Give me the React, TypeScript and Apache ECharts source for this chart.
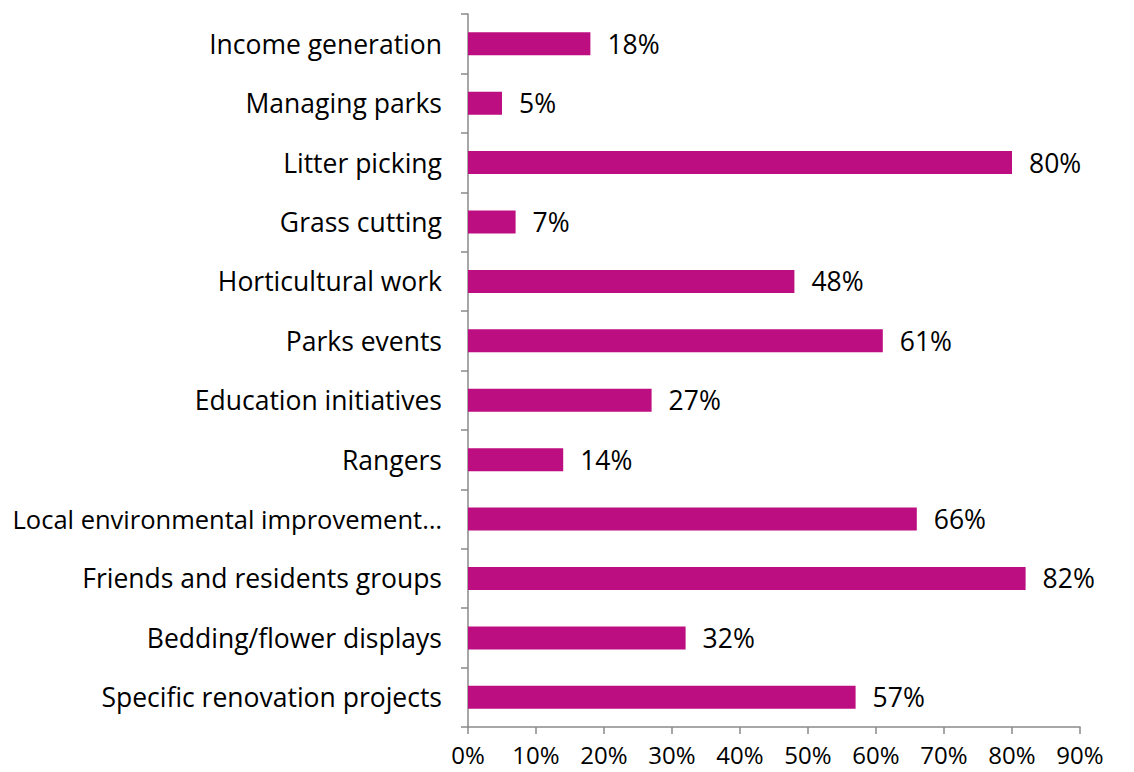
import React, { useEffect, useRef } from "react";
import * as echarts from "echarts";

const categories = [
  "Income generation",
  "Managing parks",
  "Litter picking",
  "Grass cutting",
  "Horticultural work",
  "Parks events",
  "Education initiatives",
  "Rangers",
  "Local environmental improvement…",
  "Friends and residents groups",
  "Bedding/flower displays",
  "Specific renovation projects",
];
const values = [18, 5, 80, 7, 48, 61, 27, 14, 66, 82, 32, 57];
const xTicks = [0, 10, 20, 30, 40, 50, 60, 70, 80, 90];

const FONT = "Open Sans";

export default function App() {
  const ref = useRef<HTMLDivElement>(null);
  useEffect(() => {
    const chart = echarts.init(ref.current!, null, { renderer: "svg" });
    chart.setOption({
      animation: false,
      grid: {
        left: 468,
        right: 54,
        top: 14,
        bottom: 45,
        containLabel: false,
        outerBoundsMode: "none",
      },
      xAxis: {
        type: "value",
        min: xTicks[0],
        max: xTicks[xTicks.length - 1],
        interval: 10,
        splitLine: { show: false },
        axisLine: { show: true, lineStyle: { color: "#8a8a8a", width: 1.5 } },
        axisTick: { show: true, length: 7, lineStyle: { color: "#8a8a8a", width: 1.5 } },
        axisLabel: {
          formatter: "{value}%",
          color: "#000",
          fontSize: 24,
          fontFamily: FONT,
          margin: 15,
        },
      },
      yAxis: {
        type: "category",
        inverse: true,
        data: categories,
        axisLine: { show: true, lineStyle: { color: "#8a8a8a", width: 1.5 } },
        axisTick: { show: true, length: 7, lineStyle: { color: "#8a8a8a", width: 1.5 } },
        axisLabel: {
          color: "#000",
          fontSize: 26.5,
          fontFamily: FONT,
          margin: 26,
          formatter: (v: string) => (v.length > 30 ? "{long|" + v + "}" : v),
          rich: {
            long: { fontSize: 25.5, fontFamily: FONT, color: "#000" },
          },
        },
      },
      series: [
        {
          type: "bar",
          data: values,
          barWidth: 23,
          itemStyle: { color: "#BC0E80" },
          label: {
            show: true,
            position: "right",
            distance: 17,
            formatter: "{c}%",
            color: "#000",
            fontSize: 26.5,
            fontFamily: FONT,
          },
        },
      ],
    });
    return () => chart.dispose();
  }, []);
  return <div ref={ref} style={{ width: 1134, height: 772, position: "absolute", left: 0, top: 0, background: "#fff" }} />;
}
